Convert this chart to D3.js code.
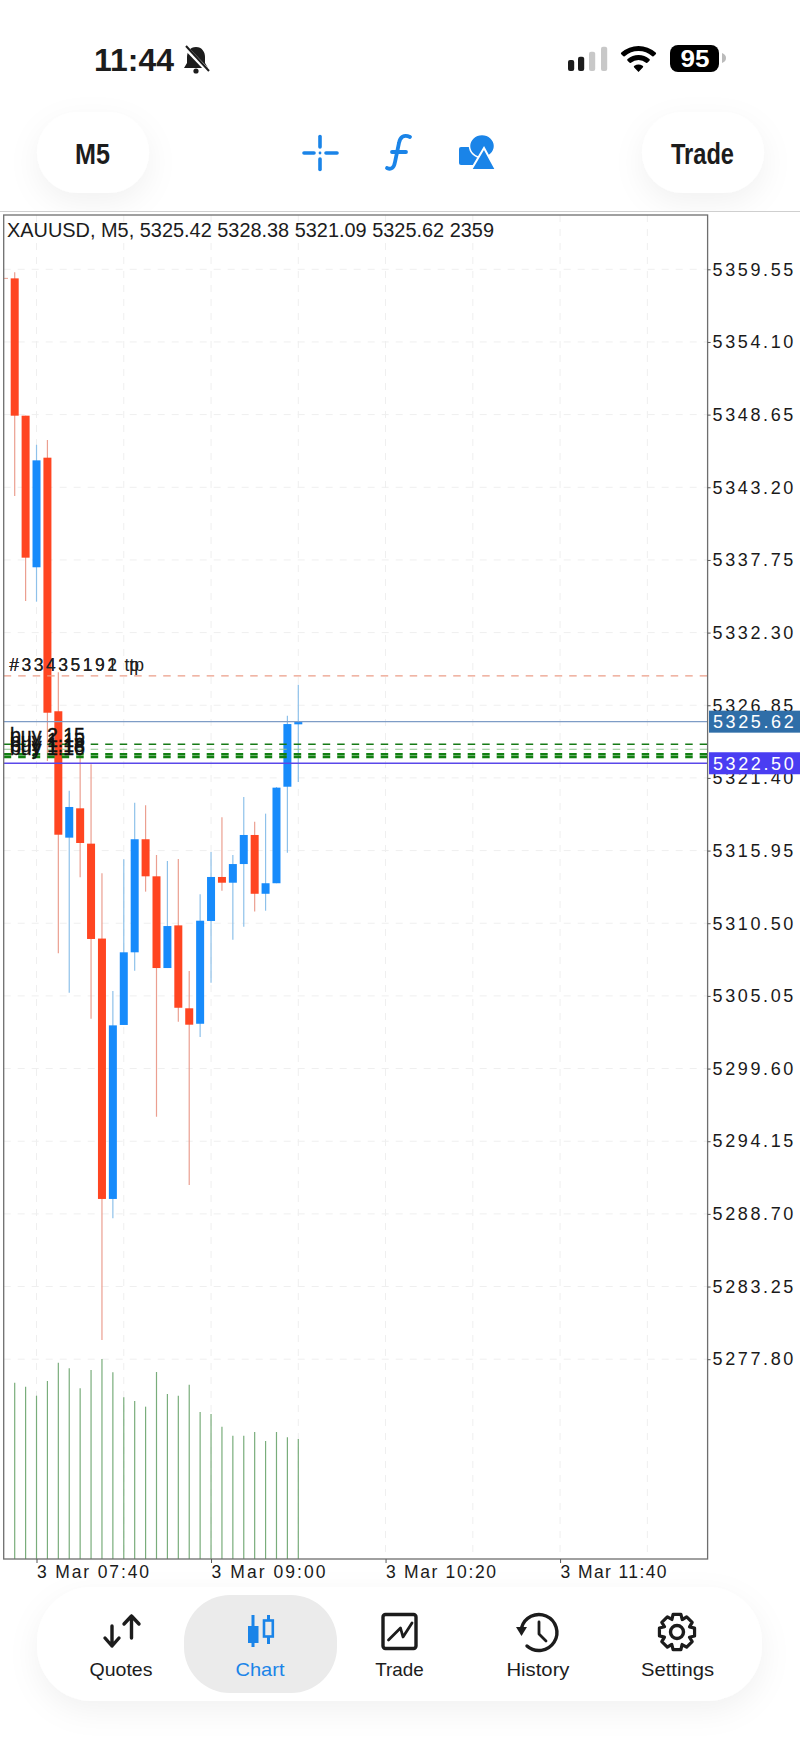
<!DOCTYPE html>
<html>
<head>
<meta charset="utf-8">
<script src="https://cdn.jsdelivr.net/npm/d3@7/dist/d3.min.js"></script>
<style>
  html, body { margin: 0; padding: 0; background: #fff; }
  svg { display: block; font-family: "Liberation Sans", Arial, sans-serif; }
</style>
</head>
<body>
<div id="canvas"></div>
<script>
// chart values
var bar_times = ["07:30","07:35","07:40","07:45","07:50","07:55","08:00","08:05","08:10","08:15","08:20","08:25","08:30","08:35",
                 "08:40","08:45","08:50","08:55","09:00","09:05","09:10","09:15","09:20","09:25","09:30","09:35","09:40"];
var opens  = [5358.87,5348.57,5337.20,5345.42,5326.40,5316.92,5319.12,5316.47,5309.35,5289.82,5302.87,5308.32,5316.80,5314.02,
              5307.14,5310.34,5304.12,5302.96,5310.67,5313.97,5313.54,5314.94,5317.12,5312.71,5313.50,5320.74,5325.42];
var highs  = [5359.33,5348.57,5346.39,5346.75,5329.32,5320.44,5323.27,5322.42,5314.25,5305.42,5315.30,5319.54,5319.35,5315.62,
              5315.17,5315.32,5306.92,5312.67,5315.84,5318.45,5315.62,5319.97,5318.12,5318.72,5320.72,5326.07,5328.38];
var lows   = [5342.55,5334.67,5334.62,5322.67,5308.24,5305.29,5313.95,5303.34,5279.24,5288.37,5302.87,5306.94,5312.87,5295.99,
              5307.14,5303.11,5290.87,5301.97,5306.04,5312.94,5309.27,5310.24,5311.38,5311.44,5313.50,5315.79,5321.09];
var closes = [5348.57,5337.92,5345.22,5326.29,5317.14,5319.22,5316.52,5309.32,5289.82,5302.84,5308.32,5316.80,5314.02,5307.14,
              5310.29,5304.16,5302.89,5310.69,5313.97,5313.54,5314.94,5317.12,5312.71,5313.50,5320.67,5325.44,5325.62];
var volumes = [3467,3388,3211,3499,3860,3748,3355,3716,3932,3670,3178,3106,2995,3676,
               3244,3211,3427,2890,2851,2602,2425,2425,2497,2320,2497,2392,2359];

var price_ticks = [5359.55,5354.10,5348.65,5343.20,5337.75,5332.30,5326.85,5321.40,5315.95,5310.50,5305.05,5299.60,5294.15,5288.70,5283.25,5277.80];
var time_ticks = ["07:40","09:00","10:20","11:40"];
var grid_times = ["07:40","08:20","09:00","09:40","10:20","11:00","11:40","12:20"];

var header_text = "XAUUSD, M5, 5325.42 5328.38 5321.09 5325.62 2359";
var bid_price = 5325.62, order_price = 5322.50, tp_price = 5329.05;
var buy_prices = [5323.92,5323.55,5323.17,5322.97];
var buy_labels = ["buy 2.15","buy 1.15","buy 1.18","buy 1.16"];
var tp_labels = ["#33435191","#33435192"];
var nav_labels = ["Quotes","Chart","Trade","History","Settings"];

(function(d3){

  var canvas_d = {width: 800, height: 1739},
      frame = {left: 3.7, right: 707.6, top: 215, bottom: 1559},
      blue = '#1a84e8',
      red_body = '#ff4521',
      blue_body = '#178bfb',
      dark = '#1c1c1c',
      canvas, defs;

  var parse_t = function(s) { return d3.utcParse('%Y-%m-%d %H:%M')('2026-03-03 ' + s); };

  canvas = d3.select('#canvas').append('svg')
      .attr('width', canvas_d.width)
      .attr('height', canvas_d.height);

  defs = canvas.append('defs');
  defs.append('filter').attr('id', 'soft').attr('x', '-40%').attr('y', '-40%').attr('width', '180%').attr('height', '190%')
    .append('feDropShadow')
      .attr('dx', 0).attr('dy', 10).attr('stdDeviation', 15)
      .attr('flood-color', '#000').attr('flood-opacity', 0.055);

  /**
   * Scales. Time is extrapolated past the last candle up to the frame edge.
   */
  var x = d3.scaleUtc()
      .domain([parse_t('07:30'), parse_t('09:40')])
      .range([14.7, 298.3]);

  var y = d3.scaleLinear()
      .domain([5359.55, 5277.80])
      .range([269.3, 1359.2]);

  var y_vol = d3.scaleLinear()
      .domain([0, d3.max(volumes)])
      .range([frame.bottom, 1359]);

  function label(g, txt, px, py, size, width, opts) {
    opts = opts || {};
    return g.append('text')
      .attr('x', px).attr('y', py)
      .attr('font-size', size)
      .attr('font-weight', opts.weight || 400)
      .attr('fill', opts.fill || dark)
      .attr('text-anchor', opts.anchor || 'start')
      .attr('textLength', width)
      .attr('lengthAdjust', 'spacingAndGlyphs')
      .text(txt);
  }

  /**
   * Top bar.
   */
  var top_bar = canvas.append('g');

  [[37, 112], [642, 122]].map(function(p) {
    top_bar.append('rect')
      .attr('x', p[0]).attr('y', 112).attr('width', p[1]).attr('height', 81).attr('rx', 41)
      .attr('fill', '#fff').attr('filter', 'url(#soft)');
  });
  label(top_bar, 'M5', 92.5, 163.5, 29, 35, {weight: 700, anchor: 'middle'});
  label(top_bar, 'Trade', 702.5, 163.5, 29, 63, {weight: 700, anchor: 'middle'});

  // crosshair
  var cross = top_bar.append('g').attr('stroke', blue).attr('stroke-width', 3.6).attr('stroke-linecap', 'round');
  [[320, 136.5, 320, 147], [320, 159, 320, 169.5], [304, 153, 314, 153], [326, 153, 337, 153]].map(function(l) {
    cross.append('line').attr('x1', l[0]).attr('y1', l[1]).attr('x2', l[2]).attr('y2', l[3]);
  });
  top_bar.append('circle').attr('cx', 320).attr('cy', 153).attr('r', 1.4).attr('fill', blue);

  // f
  top_bar.append('path')
      .attr('d', 'M410 137 C404 134 400 137 399 143 L395 162 C394 168 391 170 387 168 M392 152 L406 152')
      .attr('fill', 'none').attr('stroke', blue).attr('stroke-width', 3.8).attr('stroke-linecap', 'round');

  // shapes
  top_bar.append('rect').attr('x', 459).attr('y', 147).attr('width', 20).attr('height', 18).attr('rx', 2).attr('fill', blue);
  top_bar.append('ellipse').attr('cx', 482).attr('cy', 146).attr('rx', 12.5).attr('ry', 11.5)
      .attr('fill', blue).attr('stroke', '#fff').attr('stroke-width', 1.5);
  top_bar.append('path').attr('d', 'M484 148 L496 170 L471 170 Z')
      .attr('fill', blue).attr('stroke', '#fff').attr('stroke-width', 2);

  canvas.append('rect').attr('x', 0).attr('y', 211).attr('width', 800).attr('height', 1380).attr('fill', '#fff');
  canvas.append('line').attr('x1', 0).attr('x2', 800).attr('y1', 211.5).attr('y2', 211.5).attr('stroke', '#cfcfcf').attr('stroke-width', 1);

  /**
   * Status bar.
   */
  var status = canvas.append('g');
  label(status, '11:44', 94, 71, 32, 80, {weight: 700});

  // muted bell
  status.append('path')
      .attr('d', 'M196 47 C190 47 187 52 187 57 L187 63 L184 68 L208 68 L205 63 L205 57 C205 52 202 47 196 47 Z')
      .attr('fill', dark);
  status.append('circle').attr('cx', 196).attr('cy', 71).attr('r', 2.6).attr('fill', dark);
  status.append('line').attr('x1', 185).attr('y1', 47).attr('x2', 209).attr('y2', 72).attr('stroke', '#fff').attr('stroke-width', 4.5);
  status.append('line').attr('x1', 186).attr('y1', 46).attr('x2', 209).attr('y2', 71).attr('stroke', dark).attr('stroke-width', 2);

  // signal
  [[568, 60, dark], [578, 56.7, dark], [589, 51.7, '#c8c8c8'], [601, 46.7, '#c8c8c8']].map(function(b) {
    status.append('rect').attr('x', b[0]).attr('y', b[1]).attr('width', 6.2).attr('height', 71 - b[1]).attr('rx', 2).attr('fill', b[2]);
  });

  // wifi
  var wifi_arc = d3.arc().startAngle(-0.77).endAngle(0.77).cornerRadius(1.2);
  [[0, 7.5], [12, 17], [21, 26]].map(function(r) {
    status.append('path')
      .attr('transform', 'translate(638.5,72)')
      .attr('d', wifi_arc({innerRadius: r[0], outerRadius: r[1]}))
      .attr('fill', '#000');
  });

  // battery
  status.append('rect').attr('x', 670).attr('y', 45).attr('width', 49).attr('height', 27).attr('rx', 8).attr('fill', '#000');
  label(status, '95', 695, 67, 23, 29, {weight: 700, fill: '#fff', anchor: 'middle'});
  status.append('path').attr('d', 'M722 53 C725 54 726 56 726 58 C726 60 725 62 722 63 Z').attr('fill', '#bbb');

  /**
   * Grid.
   */
  var grid = canvas.append('g')
      .attr('stroke', '#efefef').attr('stroke-width', 1).attr('stroke-dasharray', '7 7');

  price_ticks.map(function(d) {
    grid.append('line')
      .attr('x1', frame.left).attr('x2', frame.right)
      .attr('y1', y(d)).attr('y2', y(d));
  });
  grid_times.map(function(d) {
    grid.append('line')
      .attr('x1', x(parse_t(d))).attr('x2', x(parse_t(d)))
      .attr('y1', frame.top).attr('y2', frame.bottom);
  });

  /**
   * Volume.
   */
  canvas.append('g').selectAll('line')
      .data(volumes)
    .enter().append('line')
      .attr('x1', function(d, i) { return x(parse_t(bar_times[i])); })
      .attr('x2', function(d, i) { return x(parse_t(bar_times[i])); })
      .attr('y1', frame.bottom)
      .attr('y2', function(d) { return y_vol(d); })
      .attr('stroke', '#79ad7b')
      .attr('stroke-width', 1.2);

  /**
   * Candles.
   */
  var candles = canvas.append('g').selectAll('g')
      .data(bar_times)
    .enter().append('g');

  candles.append('line')
      .attr('x1', function(d) { return x(parse_t(d)); })
      .attr('x2', function(d) { return x(parse_t(d)); })
      .attr('y1', function(d, i) { return y(highs[i]); })
      .attr('y2', function(d, i) { return y(lows[i]); })
      .attr('stroke', function(d, i) { return closes[i] < opens[i] ? '#eb9f90' : '#8ec1ea'; })
      .attr('stroke-width', 1.2);

  candles.append('rect')
      .attr('x', function(d) { return x(parse_t(d)) - 4; })
      .attr('width', 8)
      .attr('y', function(d, i) { return y(Math.max(opens[i], closes[i])); })
      .attr('height', function(d, i) { return Math.max(1.5, Math.abs(y(opens[i]) - y(closes[i]))); })
      .attr('fill', function(d, i) { return closes[i] < opens[i] ? red_body : blue_body; });

  // stub of the candle left of the frame
  canvas.append('line')
      .attr('x1', frame.left).attr('x2', 8)
      .attr('y1', y(opens[0])).attr('y2', y(opens[0]))
      .attr('stroke', '#eb9f90').attr('stroke-width', 1);

  /**
   * Levels.
   */
  var levels = canvas.append('g');
  function level(price, color, w, dash) {
    levels.append('line')
      .attr('x1', frame.left).attr('x2', frame.right)
      .attr('y1', y(price)).attr('y2', y(price))
      .attr('stroke', color).attr('stroke-width', w)
      .attr('stroke-dasharray', dash);
  }
  level(tp_price, '#eb9d88', 1.2, '7.5 7');
  level(buy_prices[0], '#167a16', 1.4, '7.5 7');
  level(buy_prices[1], '#8fc48f', 1.2, '7.5 7');
  level(buy_prices[2], '#128012', 2.6, '7.5 7');
  level(buy_prices[3], '#128012', 2.6, '7.5 7');
  level(bid_price, '#7e9cc6', 1.3, null);
  level(order_price, '#5a48ea', 1.5, null);

  buy_labels.map(function(d, i) {
    canvas.append('text')
      .attr('x', 10).attr('y', y(buy_prices[i]) - 2)
      .attr('font-size', 20).attr('fill', '#111')
      .attr('stroke', '#111').attr('stroke-width', 0.35)
      .attr('textLength', 75).attr('lengthAdjust', 'spacingAndGlyphs')
      .text(d);
  });
  tp_labels.map(function(d, i) {
    var t = canvas.append('text')
      .attr('x', 9.3).attr('y', y(tp_price) - 4.5)
      .attr('font-size', 17.5).attr('fill', '#222');
    t.append('tspan').attr('letter-spacing', 2.5).text(d);
    t.append('tspan').attr('dx', 5 + i * 5).text('tp');
  });

  /**
   * Frame and axes.
   */
  canvas.append('rect')
      .attr('x', frame.left).attr('y', frame.top)
      .attr('width', frame.right - frame.left).attr('height', frame.bottom - frame.top)
      .attr('fill', 'none').attr('stroke', '#6e6e6e').attr('stroke-width', 1.3);

  var y_axis = canvas.append('g')
      .attr('transform', 'translate(' + frame.right + ',0)')
      .call(d3.axisRight(y).tickValues(price_ticks).tickFormat(d3.format('.2f')).tickSize(3).tickPadding(2));

  var x_axis = canvas.append('g')
      .attr('transform', 'translate(0,' + frame.bottom + ')')
      .call(d3.axisBottom(x).tickValues(time_ticks.map(parse_t)).tickFormat(d3.utcFormat('%-d %b %H:%M')).tickSize(4));

  [y_axis, x_axis].map(function(a) {
    a.select('.domain').remove();
    a.selectAll('.tick line').attr('stroke', '#555');
    a.selectAll('text').attr('font-family', '"Liberation Sans", Arial, sans-serif').attr('fill', '#1a1a1a');
  });
  y_axis.selectAll('text').attr('font-size', 18).attr('letter-spacing', 2.6);

  var time_w = [112, 114, 110, 106];
  x_axis.selectAll('text').attr('font-size', 17.5)
      .attr('text-anchor', 'start').attr('y', 7).attr('dy', '0.71em')
      .attr('textLength', function(d, i) { return time_w[i]; });

  // price tags
  [[bid_price, '#2f6ea8'], [order_price, '#4a3df2']].map(function(p) {
    canvas.append('rect')
      .attr('x', 709).attr('width', 91)
      .attr('y', y(p[0]) - 11).attr('height', 22)
      .attr('fill', p[1]);
    canvas.append('text')
      .attr('x', 713).attr('y', y(p[0]) + 6.5)
      .attr('font-size', 18).attr('letter-spacing', 2.6).attr('fill', '#fff')
      .text(d3.format('.2f')(p[0]));
  });

  // header
  label(canvas, header_text, 7, 236.5, 19.5, 487);

  /**
   * Bottom navigation.
   */
  var nav = canvas.append('g');
  nav.append('rect')
      .attr('x', 37).attr('y', 1587).attr('width', 725).attr('height', 114).attr('rx', 55)
      .attr('fill', '#fff').attr('filter', 'url(#soft)');
  nav.append('rect')
      .attr('x', 184).attr('y', 1595).attr('width', 153).attr('height', 98).attr('rx', 46)
      .attr('fill', '#ebebeb');

  var nav_x = [121, 260, 399.5, 538, 677.5],
      nav_w = [63, 49, 48.5, 63, 73];
  nav_labels.map(function(d, i) {
    label(nav, d, nav_x[i], 1676, 18.5, nav_w[i], {anchor: 'middle', fill: i === 1 ? blue : dark});
  });

  var line_icon = nav.append('g')
      .attr('fill', 'none').attr('stroke', dark).attr('stroke-width', 3.4).attr('stroke-linejoin', 'round').attr('stroke-linecap', 'round');

  // quotes
  line_icon.append('path').attr('d', 'M112 1626 L112 1646 M105 1638 L112 1646 L119 1638');
  line_icon.append('path').attr('d', 'M131.5 1638 L131.5 1616 M124 1624 L131.5 1616 L139 1624');

  // chart
  nav.append('rect').attr('x', 251.5).attr('y', 1615).attr('width', 3).attr('height', 32).attr('fill', blue);
  nav.append('rect').attr('x', 248).attr('y', 1626).attr('width', 10.5).attr('height', 17).attr('fill', blue);
  nav.append('rect').attr('x', 267).attr('y', 1615).attr('width', 3).attr('height', 29).attr('fill', blue);
  nav.append('rect').attr('x', 264).attr('y', 1620.5).attr('width', 8.8).attr('height', 16).attr('fill', '#ebebeb').attr('stroke', blue).attr('stroke-width', 2.6);

  // trade
  line_icon.append('rect').attr('x', 383).attr('y', 1614.5).attr('width', 33).attr('height', 34).attr('rx', 2.5);
  line_icon.append('path').attr('d', 'M388.5 1640 L400.5 1628 L403 1637 L412 1623').attr('stroke-width', 2.8);

  // history
  line_icon.append('path').attr('d', 'M521.5 1628 A18 18 0 1 1 527 1646');
  line_icon.append('path').attr('d', 'M539 1622 L539 1634 L546 1641').attr('stroke-width', 2.8);
  nav.append('path').attr('d', 'M516 1627 L527 1627 L521.5 1636 Z').attr('fill', dark);

  // settings
  var gear_pts = [];
  d3.range(8).map(function(i) {
    var a = i * Math.PI / 4;
    gear_pts.push([a - 0.22, 18], [a + 0.22, 18], [a + 0.40, 13.5]);
  });
  line_icon.append('path')
      .attr('transform', 'translate(677,1632)')
      .attr('d', d3.lineRadial().angle(function(d) { return d[0]; }).radius(function(d) { return d[1]; }).curve(d3.curveLinearClosed)(gear_pts))
      .attr('stroke-width', 3.2);
  line_icon.append('circle').attr('cx', 677).attr('cy', 1632).attr('r', 6.5);

})(d3);
</script>
</body>
</html>
